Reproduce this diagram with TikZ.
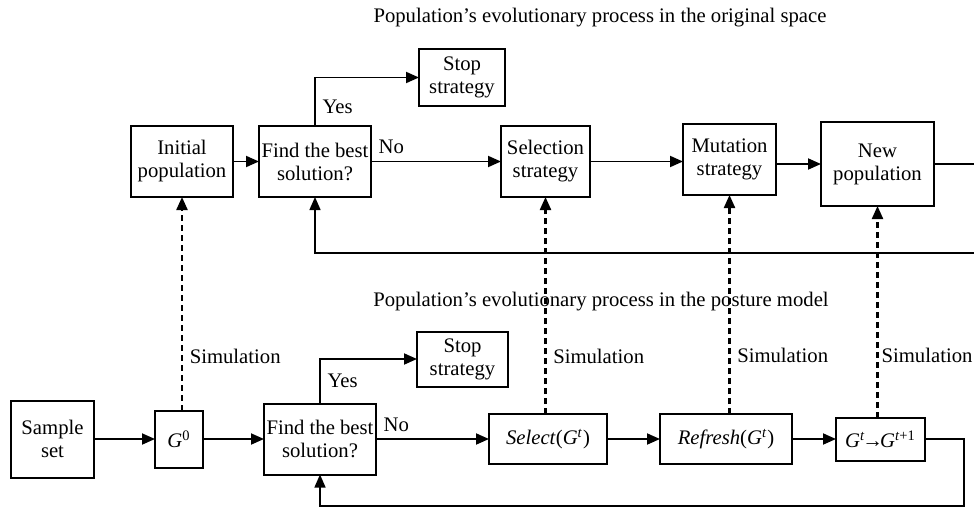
\documentclass[tikz,border=0pt]{standalone}
\usepackage{fontspec}
\setmainfont{Liberation Serif}
\usetikzlibrary{arrows.meta, positioning}

\begin{document}
\begin{tikzpicture}[
    % Estilos globales
    font=\fontsize{10.35}{11.5}\selectfont,
    base/.style = {draw=black, line width=1pt, align=center, inner sep=1pt, outer sep=0pt},
    caja/.style = {base, rectangle, minimum height=35.5pt},
    flecha/.style = {line width=0.9pt, -{Triangle[length=6.5pt, width=5.5pt]}},
    retorno/.style = {line width=0.7pt, -{Triangle[length=6.5pt, width=5.5pt]}},
    flecha_sim/.style = {line width=1.1pt, dash pattern=on 3pt off 2pt, -{Triangle[length=6.5pt, width=5.5pt]}}
]
\useasboundingbox (0,0) rectangle (487pt,-254pt);

% ===============================
% 1. Espacio original (fila superior)
% ===============================
\node (titA) at (300pt,-9pt) {Population’s evolutionary process in the original space};

\node (init) [caja, minimum width=51pt] at (91pt,-80.75pt) {Initial\\population};
\node (findA) [caja, minimum width=56pt, right=13pt of init] {Find the best\\solution?};
\node (stopA) [caja, minimum width=43pt, minimum height=28.5pt, above right=10pt and 24pt of findA] {Stop\\strategy};
\node (selA) [caja, minimum width=44.5pt, right=65pt of findA] {Selection\\strategy};
\node (mutA) [caja, minimum width=46.5pt, right=46.5pt of selA, yshift=1pt] {Mutation\\strategy};
\node (newpop) [caja, minimum width=56.5pt, minimum height=42pt, right=22.5pt of mutA, yshift=-2.25pt] {New\\population};

\coordinate (loopA) at (500pt,-126.5pt);

% ===============================
% 2. Modelo de postura (fila inferior)
% ===============================
\node (titB) at (300.5pt,-151pt) {Population’s evolutionary process in the posture model};

\node (sample) [caja, minimum width=41.5pt, minimum height=38.5pt] at (26.25pt,-219.5pt) {Sample\\set};
\node (gzero) [caja, minimum width=24pt, minimum height=28.5pt, right=30.5pt of sample] {\textit{G}\textsuperscript{0}};
\node (findB) [caja, minimum width=56pt, right=30.5pt of gzero] {Find the best\\solution?};
\node (stopB) [caja, minimum width=45.5pt, minimum height=27.5pt, above right=8.5pt and 20.5pt of findB] {Stop\\strategy};
\node (selB) [caja, minimum width=59pt, minimum height=25pt, right=56.5pt of findB] {\textit{Select}(\textit{G}\textsuperscript{\textit{t}})};
\node (refB) [caja, minimum width=66pt, minimum height=25pt, right=26.5pt of selB] {\textit{Refresh}(\textit{G}\textsuperscript{\textit{t}})};
\node (gnext) [caja, minimum width=44.5pt, minimum height=21.5pt, right=22pt of refB] {\textit{G}\textsuperscript{\textit{t}}\kern-1.5pt→\kern-1.5pt\textit{G}\textsuperscript{\textit{t}+1}};

\coordinate (loopB) at (482pt,-253pt);

% ===============================
% 3. Flechas
% ===============================
\draw [flecha] (init) -- (findA);
\draw [flecha] (findA.north) |- (stopA.west) node[pos=0.2, right] {Yes};
\draw [flecha] (findA) -- (selA) node[pos=0, above right] {No};
\draw [flecha] (selA.east) -- (selA.east -| mutA.west);
\draw [flecha] (newpop.west -| mutA.east) -- (newpop.west);
\draw [retorno] (newpop.east) -| (loopA) -| (findA.south);

\draw [flecha] (sample) -- (gzero);
\draw [flecha] (gzero) -- (findB);
\draw [flecha] (findB.north) |- (stopB.west) node[pos=0.25, right] {Yes};
\draw [flecha] (findB) -- (selB) node[pos=0, above right] {No};
\draw [flecha] (selB) -- (refB);
\draw [flecha] (refB) -- (gnext);
\draw [retorno] (gnext.east) -| (loopB) -| (findB.south);

% Simulacion
\draw [flecha_sim] (gzero.north -| init) -- (init.south) node[pos=0.254, right] {Simulation};
\draw [flecha_sim] (selB.north -| selA) -- (selA.south) node[pos=0.267, right] {Simulation};
\draw [flecha_sim] (refB.north -| mutA) -- (mutA.south) node[pos=0.268, right] {Simulation};
\draw [flecha_sim] (gnext.north -| newpop) -- (newpop.south) node[pos=0.292, right, inner sep=1.5pt] {Simulation};

\end{tikzpicture}
\end{document}
